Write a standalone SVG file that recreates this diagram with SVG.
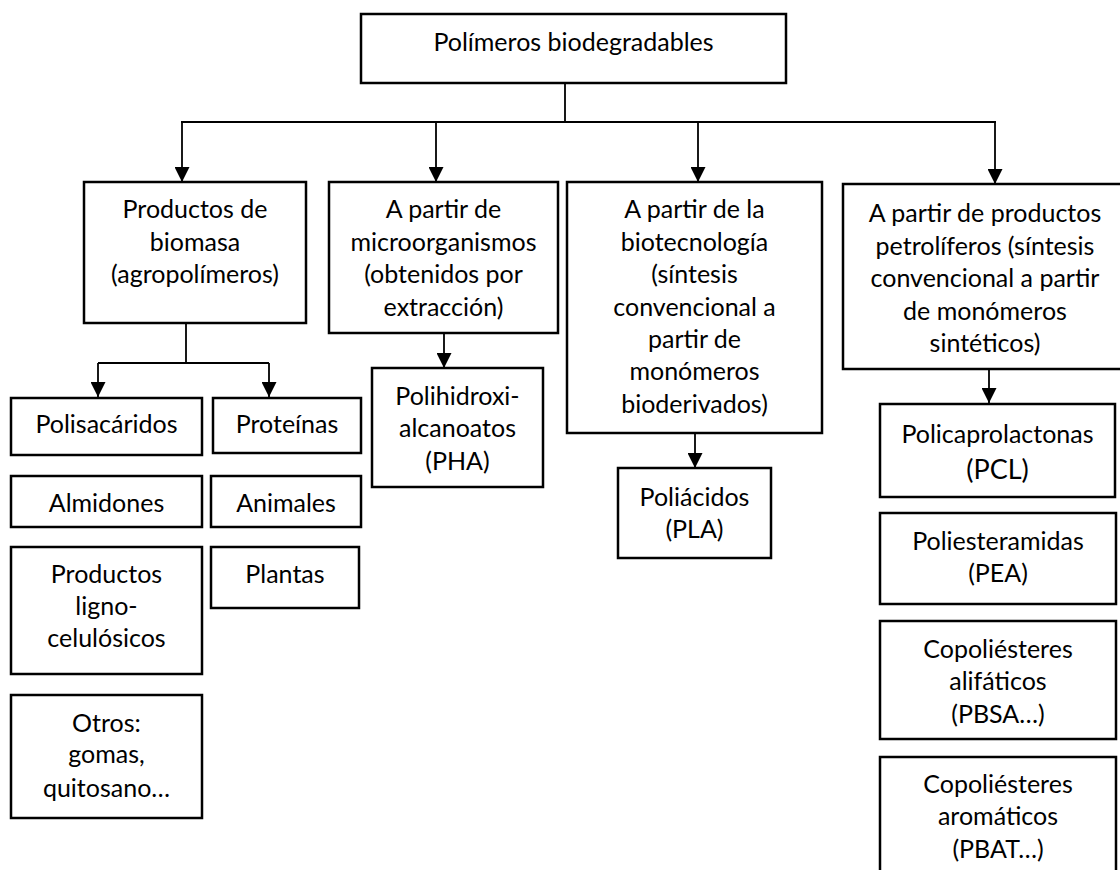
<svg xmlns="http://www.w3.org/2000/svg" width="1120" height="870" viewBox="0 0 1120 870">
<style>
.box{fill:#fff;stroke:#000;stroke-width:2.5}
.t{font-family:Lato,"Open Sans",sans-serif;font-size:25px;fill:#000;text-anchor:middle}
.big{font-size:27px}
.c{fill:none;stroke:#000;stroke-width:1.8}
.a{marker-end:url(#ah)}
</style>
<defs>
<marker id="ah" markerUnits="userSpaceOnUse" markerWidth="15" markerHeight="15" refX="14" refY="7" orient="auto" viewBox="0 0 14 14"><path d="M0,0 L14,7 L0,14 z" fill="#000"/></marker>
</defs>
<rect width="1120" height="870" fill="#fff"/>
<g id="connectors">
<path class="c" d="M565,83 V122 M181,122 H996"/>
<path class="c a" d="M182,122 V182"/>
<path class="c a" d="M436,122 V182"/>
<path class="c a" d="M698,122 V182"/>
<path class="c a" d="M995,122 V184"/>
<path class="c" d="M186,323 V363 M98,363 H269"/>
<path class="c a" d="M98,363 V397"/>
<path class="c a" d="M269,363 V397"/>
<path class="c a" d="M444,333 V368"/>
<path class="c a" d="M695,433 V468"/>
<path class="c a" d="M989,369 V403"/>
</g>
<g id="root"><rect class="box" x="361" y="14" width="425" height="69"/><text class="t" x="573.5" y="51">Polímeros biodegradables</text></g>
<g id="biomasa"><rect class="box" x="84" y="182" width="222" height="141"/><text class="t" x="195" y="218">Productos de</text><text class="t" x="195" y="251">biomasa</text><text class="t" x="195" y="283">(agropolímeros)</text></g>
<g id="microorganismos"><rect class="box" x="329" y="182" width="229" height="151"/><text class="t" x="443.5" y="218">A partir de</text><text class="t" x="443.5" y="251">microorganismos</text><text class="t" x="443.5" y="283">(obtenidos por</text><text class="t" x="443.5" y="316">extracción)</text></g>
<g id="biotecnologia"><rect class="box" x="567" y="182" width="255" height="251"/><text class="t" x="694.5" y="218">A partir de la</text><text class="t" x="694.5" y="251">biotecnología</text><text class="t" x="694.5" y="283">(síntesis</text><text class="t" x="694.5" y="316">convencional a</text><text class="t" x="694.5" y="348">partir de</text><text class="t" x="694.5" y="380">monómeros</text><text class="t" x="694.5" y="413">bioderivados)</text></g>
<g id="petroliferos"><rect class="box" x="843" y="184" width="284" height="185"/><text class="t" x="985" y="222">A partir de productos</text><text class="t" x="985" y="254.5">petrolíferos (síntesis</text><text class="t" x="985" y="287">convencional a partir</text><text class="t" x="985" y="319.5">de monómeros</text><text class="t" x="985" y="352">sintéticos)</text></g>
<g id="polisacaridos"><rect class="box" x="11" y="398" width="191" height="57"/><text class="t" x="106.5" y="433">Polisacáridos</text></g>
<g id="proteinas"><rect class="box" x="213" y="398" width="148" height="55"/><text class="t" x="287" y="433">Proteínas</text></g>
<g id="almidones"><rect class="box" x="11" y="476" width="191" height="51"/><text class="t" x="106.5" y="512">Almidones</text></g>
<g id="animales"><rect class="box" x="211" y="476" width="150" height="51"/><text class="t" x="286" y="512">Animales</text></g>
<g id="ligno"><rect class="box" x="11" y="547" width="191" height="127"/><text class="t" x="106.5" y="583">Productos</text><text class="t" x="106.5" y="615">ligno-</text><text class="t" x="106.5" y="647">celulósicos</text></g>
<g id="plantas"><rect class="box" x="211" y="547" width="148" height="61"/><text class="t" x="285" y="583">Plantas</text></g>
<g id="otros"><rect class="box" x="11" y="695" width="191" height="123"/><text class="t" x="106.5" y="732">Otros:</text><text class="t" x="106.5" y="763">gomas,</text><text class="t" x="106.5" y="797">quitosano…</text></g>
<g id="pha"><rect class="box" x="372" y="368" width="171" height="119"/><text class="t" x="457.5" y="405">Polihidroxi-</text><text class="t" x="457.5" y="437">alcanoatos</text><text class="t" x="457.5" y="470">(PHA)</text></g>
<g id="pla"><rect class="box" x="618" y="468" width="153" height="90"/><text class="t" x="694.5" y="506">Poliácidos</text><text class="t" x="694.5" y="538">(PLA)</text></g>
<g id="pcl"><rect class="box" x="880" y="404" width="235" height="93"/><text class="t" x="997.5" y="443">Policaprolactonas</text><text class="t big" x="997.5" y="479">(PCL)</text></g>
<g id="pea"><rect class="box" x="880" y="513" width="236" height="91"/><text class="t" x="998" y="550">Poliesteramidas</text><text class="t" x="998" y="582">(PEA)</text></g>
<g id="pbsa"><rect class="box" x="880" y="621" width="236" height="118"/><text class="t" x="998" y="658">Copoliésteres</text><text class="t" x="998" y="690">alifáticos</text><text class="t" x="998" y="723">(PBSA…)</text></g>
<g id="pbat"><rect class="box" x="880" y="757" width="236" height="130"/><text class="t" x="998" y="793">Copoliésteres</text><text class="t" x="998" y="825">aromáticos</text><text class="t" x="998" y="858">(PBAT…)</text></g>
</svg>
